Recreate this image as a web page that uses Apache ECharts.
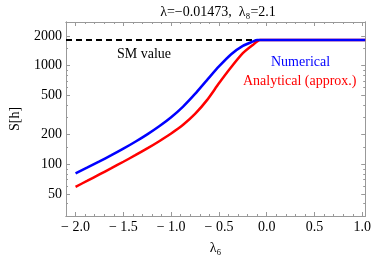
<!DOCTYPE html>
<html><head><meta charset="utf-8">
<script src="https://cdn.jsdelivr.net/npm/echarts@6/dist/echarts.min.js"></script>
<style>html,body{margin:0;padding:0;background:#fff}#c{width:374px;height:260px}</style>
</head><body><div id="c"></div>
<script>
const titleText = 'λ=−0.01473,  λ₈=2.1';
const xName = 'λ₆';
const yName = 'S[h]';
const xMajorTicks = [-2.0,-1.5,-1.0,-0.5,0.0,0.5,1.0];
const xMinorTicks = [-2.0,-1.9,-1.8,-1.7,-1.6,-1.5,-1.4,-1.3,-1.2,-1.1,-1.0,-0.9,-0.8,-0.7,-0.6,-0.5,-0.4,-0.3,-0.2,-0.1,0.0,0.1,0.2,0.3,0.4,0.5,0.6,0.7,0.8,0.9,1.0];
const yMajorTicks = [50,100,200,500,1000,2000];
const yMinorTicks = [30,40,60,70,80,90,150,300,400,600,700,800,900,1500];
const blueX = [-2.0,-1.875,-1.75,-1.625,-1.5,-1.375,-1.25,-1.125,-1.0,-0.875,-0.75,-0.625,-0.5,-0.375,-0.25,-0.15,-0.1,1.03];
const blueY = [81.1,93.1,107.2,123.9,144.2,169.4,201.4,243.2,300.6,385.5,517.6,714.5,981.7,1300,1585,1750,1820,1820];
const redX = [-2.0,-1.875,-1.75,-1.625,-1.5,-1.375,-1.25,-1.125,-1.0,-0.875,-0.75,-0.625,-0.5,-0.375,-0.25,-0.15,-0.07,1.03];
const redY = [59.3,68.4,79.1,91.6,106.4,123.9,145.2,171.8,205.6,251.8,324.3,447.7,662.2,957.2,1337,1607,1820,1820];
const smX = [-2.1,-0.1];
const smY = [1820,1820];
const xMin = -2.1, xMax = 1.03, yMin = 30, yMax = 2770;

const font = 'Liberation Serif';
const frameColor = '#999';
const chart = echarts.init(document.getElementById('c'), null, {renderer:'canvas'});
function fmtX(v){ const a = Math.abs(v).toFixed(1); return (v < -1e-9 ? '− ' : '') + a; }
function xAxisCfg(pos, ticks, len, labels){
  return {type:'value', position:pos, min:xMin, max:xMax,
    axisLine:{show:true, onZero:false, lineStyle:{color:frameColor, width:1}},
    splitLine:{show:false},
    axisTick:{show:true, inside:true, length:len, customValues:ticks, lineStyle:{color:frameColor}},
    axisLabel:{show:labels, customValues:xMajorTicks, formatter:fmtX, color:'#000', fontFamily:font, fontSize:14, margin:4},
    name: labels && pos==='bottom' ? xName : '', nameLocation:'middle', nameGap:25,
    nameTextStyle:{fontFamily:font, fontSize:14, color:'#000'}};
}
function yAxisCfg(pos, ticks, len, labels){
  return {type:'log', logBase:10, position:pos, min:yMin, max:yMax,
    axisLine:{show:true, onZero:false, lineStyle:{color:frameColor, width:1}},
    splitLine:{show:false}, minorTick:{show:false}, minorSplitLine:{show:false},
    axisTick:{show:true, inside:true, length:len, customValues:ticks, lineStyle:{color:frameColor}},
    axisLabel:{show:labels, customValues:yMajorTicks, formatter:v=>String(Math.round(v)), color:'#000', fontFamily:font, fontSize:14, margin:4},
    name: labels && pos==='left' ? yName : '', nameLocation:'middle', nameGap:44, nameRotate:90,
    nameTextStyle:{fontFamily:font, fontSize:14, color:'#000'}};
}
chart.setOption({
  animation:false,
  title:{text:titleText, left:213, top:0, textAlign:'center', textStyle:{fontFamily:font, fontSize:14, fontWeight:'normal', color:'#000'}},
  grid:{left:57, right:4, top:22, bottom:44, containLabel:false},
  xAxis:[xAxisCfg('bottom', xMajorTicks, 4, true), xAxisCfg('bottom', xMinorTicks, 2, false),
         xAxisCfg('top', xMajorTicks, 4, false), xAxisCfg('top', xMinorTicks, 2, false)],
  yAxis:[yAxisCfg('left', yMajorTicks, 4, true), yAxisCfg('left', yMinorTicks, 2, false),
         yAxisCfg('right', yMajorTicks, 4, false), yAxisCfg('right', yMinorTicks, 2, false)],
  series:[
    {type:'line', name:'SM value', data:smX.map((x,i)=>[x,smY[i]]), symbol:'none', lineStyle:{color:'#000', width:2, type:[6,4]}, z:1},
    {type:'line', name:'Analytical (approx.)', data:redX.map((x,i)=>[x,redY[i]]), symbol:'none', smooth:0.25, lineStyle:{color:'#ff0000', width:2.5}, z:2},
    {type:'line', name:'Numerical', data:blueX.map((x,i)=>[x,blueY[i]]), symbol:'none', smooth:0.25, lineStyle:{color:'#0000ff', width:2.5}, z:3}
  ],
  graphic:[
    {type:'text', left:117, top:47, style:{text:'SM value', fontFamily:font, fontSize:14, fill:'#000'}},
    {type:'text', left:271, top:55, style:{text:'Numerical', fontFamily:font, fontSize:14, fill:'#0000ff'}},
    {type:'text', left:243, top:74, style:{text:'Analytical (approx.)', fontFamily:font, fontSize:14, fill:'#ff0000'}}
  ]
});
</script></body></html>
